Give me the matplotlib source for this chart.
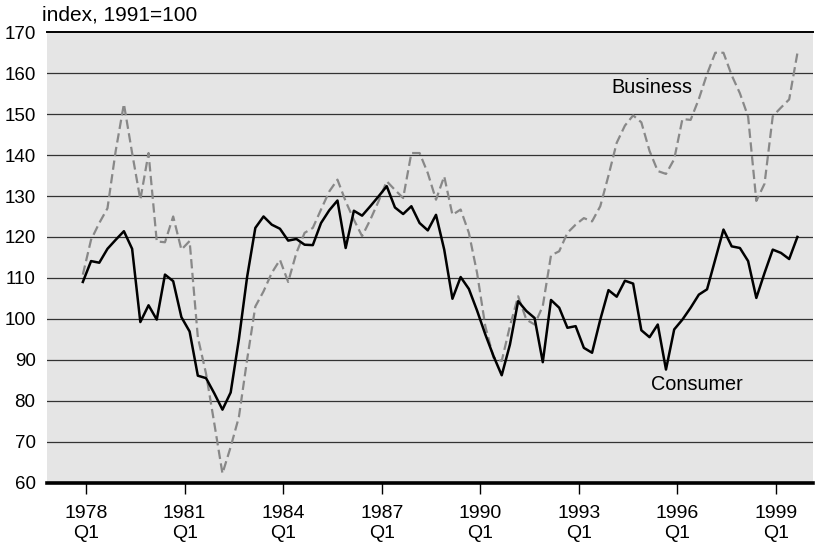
import numpy as np
import matplotlib
matplotlib.use("Agg")
import matplotlib.pyplot as plt

plt.rcParams["font.family"] = ["Liberation Sans", "DejaVu Sans"]

# quarterly index, 1991=100, 1978 Q1 .. 1999 Q4
consumer = [
    109.0, 114.1, 113.7, 117.1, 119.3, 121.4, 117.1, 99.2, 103.3, 99.8,
    110.8, 109.2, 100.4, 96.9, 86.1, 85.5, 81.8, 77.8, 82.0, 95.0,
    110.2, 122.2, 125.0, 123.0, 122.0, 119.1, 119.5, 118.1, 118.0, 123.4,
    126.5, 128.9, 117.3, 126.4, 125.2, 127.5, 129.9, 132.4, 127.2, 125.6,
    127.5, 123.4, 121.6, 125.4, 116.9, 104.9, 110.2, 107.3, 102.0, 96.2,
    90.9, 86.2, 93.7, 104.3, 101.9, 100.2, 89.4, 104.6, 102.7, 97.8,
    98.2, 92.9, 91.7, 99.8, 107.0, 105.4, 109.3, 108.6, 97.2, 95.5,
    98.6, 87.6, 97.4, 99.8, 102.7, 105.9, 107.2, 114.5, 121.8, 117.7,
    117.3, 114.1, 105.1, 111.2, 116.9, 116.1, 114.6, 120.0,
]
business = [
    110.8, 119.3, 123.4, 127.0, 141.0, 152.5, 140.5, 129.1, 140.5, 118.9,
    118.7, 125.0, 116.9, 119.0, 95.5, 86.6, 74.5, 62.2, 68.7, 76.0,
    90.0, 103.0, 106.7, 111.2, 114.4, 109.0, 116.1, 121.0, 122.2, 126.7,
    131.1, 134.0, 128.7, 124.2, 120.2, 124.2, 128.7, 133.6, 131.5, 129.5,
    140.5, 140.5, 135.6, 129.1, 134.8, 125.4, 126.7, 121.0, 111.2, 98.2,
    90.5, 89.7, 98.2, 105.5, 99.8, 98.6, 103.1, 115.5, 116.5, 121.0,
    123.0, 124.6, 123.8, 127.5, 135.0, 143.0, 147.2, 149.7, 148.0, 141.0,
    136.1, 135.4, 139.0, 148.8, 148.6, 153.7, 159.8, 165.0, 165.0, 159.5,
    155.1, 149.4, 128.8, 133.0, 149.5, 151.6, 153.6, 164.9,
]
tick_years = [1978, 1981, 1984, 1987, 1990, 1993, 1996, 1999]
y_ticks = [60, 70, 80, 90, 100, 110, 120, 130, 140, 150, 160, 170]

x = np.arange(len(consumer))
W, H = 818, 548

fig = plt.figure(figsize=(W / 100, H / 100), dpi=100)
ax = fig.add_axes([46.7 / W, 1 - 482.5 / H, (813 - 46.7) / W, (482.5 - 32.3) / H])
ax.set_facecolor("#e5e5e5")

for y in y_ticks[1:-1]:
    ax.axhline(y, color="#333333", lw=0.9, zorder=1)
ax.axhline(170, color="black", lw=1.4, zorder=1, clip_on=False)

ax.plot(x, business, color="#888888", lw=1.6, dashes=(4.2, 2.0), zorder=2)
ax.plot(x, consumer, color="black", lw=1.8, zorder=3)

ax.set_xlim(-4.4, 88.9)
ax.set_ylim(60, 170)

ax.set_yticks(y_ticks)
ax.tick_params(axis="y", length=0, pad=8, labelsize=13.5)
ax.set_xticks([(y - 1978) * 4 + 0.4 for y in tick_years])
ax.set_xticklabels([f"{y}\nQ1" for y in tick_years])
ax.tick_params(axis="x", length=8, width=1, pad=8.5, labelsize=14, direction="out")

for s in ("left", "right", "top"):
    ax.spines[s].set_visible(False)
ax.spines["bottom"].set_linewidth(2.6)

ax.text(69.3, 156.4, "Business", fontsize=14.3, ha="center", va="center")
ax.text(74.8, 84.0, "Consumer", fontsize=14.3, ha="center", va="center")

fig.text(41.7 / W, 1 - 20.7 / H, "index, 1991=100", fontsize=15, va="baseline")

fig.savefig("out.png", dpi=100)
